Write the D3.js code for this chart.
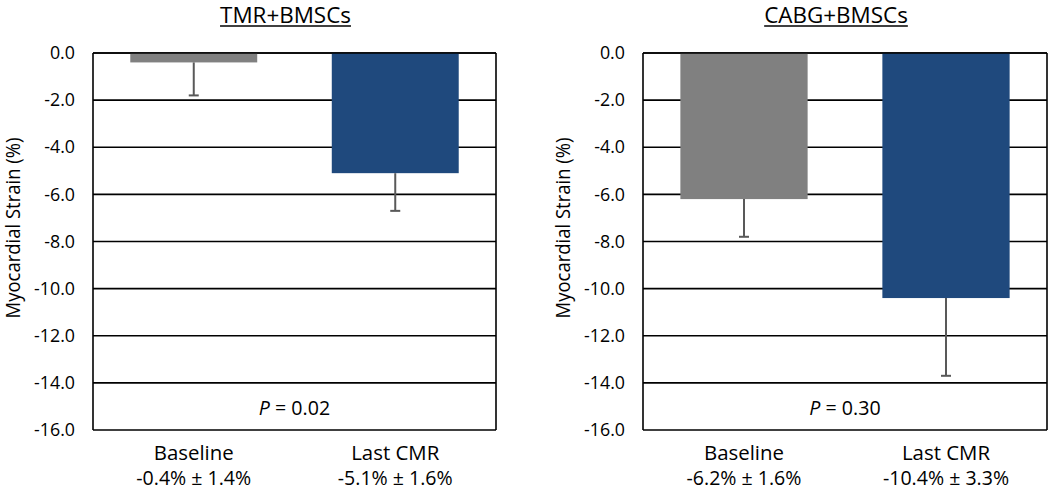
<!DOCTYPE html>
<html><head><meta charset="utf-8">
<script src="https://cdn.jsdelivr.net/npm/d3@7"></script>
<style>body{margin:0;background:#fff}text{font-family:"Open Sans",sans-serif;fill:#000}</style>
</head><body><svg id="c" width="1050" height="490"></svg>
<script>
const categories = ["Baseline", "Last CMR"];
const panelTitles = ["TMR+BMSCs", "CABG+BMSCs"];
const tmrMeans = [-0.4, -5.1];
const tmrSD = [1.4, 1.6];
const cabgMeans = [-6.2, -10.4];
const cabgSD = [1.6, 3.3];
const pValues = ["0.02", "0.30"];
const yTicks = [0, -2, -4, -6, -8, -10, -12, -14, -16];
const barColors = ["#808080", "#1f497d"];

const panels = [
  {title: panelTitles[0], means: tmrMeans, sd: tmrSD, p: pValues[0], x0: 93, x1: 496},
  {title: panelTitles[1], means: cabgMeans, sd: cabgSD, p: pValues[1], x0: 643, x1: 1047}
];
const svg = d3.select("#c");
const y = d3.scaleLinear().domain([0, -16]).range([53, 430]);
const fmt = v => v.toFixed(1);
const statFmt = (m, s) => `${m.toFixed(1)}% ± ${s.toFixed(1)}%`;

function fitSize(str, target) {
  const t = svg.append("text").attr("font-size", 100).text(str);
  const w = t.node().getComputedTextLength();
  t.remove();
  return 100 * target / w;
}
const tickSize = fitSize("-16.0", 41);
const catSize = fitSize("Baseline", 80);
const statSize = fitSize("-0.4% ± 1.4%", 115);
const pSize = fitSize("P = 0.02", 72);
const titleSize = fitSize("TMR+BMSCs", 131);
const ylabSize = fitSize("Myocardial Strain (%)", 181);

panels.forEach(p => {
  const g = svg.append("g");
  const x = d3.scaleBand().domain(categories).range([p.x0, p.x1]).paddingInner(0.37).paddingOuter(0.185);
  g.selectAll(".grid").data(yTicks).join("line")
    .attr("x1", p.x0).attr("x2", p.x1).attr("y1", d => y(d)).attr("y2", d => y(d))
    .attr("stroke", "#000").attr("stroke-width", 1.6);
  g.append("line").attr("x1", p.x0).attr("x2", p.x0).attr("y1", y(0)).attr("y2", y(-16)).attr("stroke", "#000").attr("stroke-width", 1.6);
  g.append("line").attr("x1", p.x1).attr("x2", p.x1).attr("y1", y(0)).attr("y2", y(-16)).attr("stroke", "#000").attr("stroke-width", 1.6);
  const ax = d3.axisLeft(y).tickValues(yTicks).tickFormat(fmt).tickSize(0).tickPadding(18);
  const axg = g.append("g").attr("transform", `translate(${p.x0},0)`).call(ax);
  axg.select(".domain").remove();
  axg.selectAll("text").attr("font-size", tickSize).attr("fill", "#000");
  g.selectAll(".bar").data(p.means).join("rect")
    .attr("x", (d, i) => x(categories[i])).attr("width", x.bandwidth())
    .attr("y", y(0)).attr("height", d => y(d) - y(0))
    .attr("fill", (d, i) => barColors[i]);
  p.means.forEach((m, i) => {
    const cx = x(categories[i]) + x.bandwidth() / 2;
    g.append("line").attr("x1", cx).attr("x2", cx).attr("y1", y(m)).attr("y2", y(m - p.sd[i])).attr("stroke", "#595959").attr("stroke-width", 2);
    g.append("line").attr("x1", cx - 5).attr("x2", cx + 5).attr("y1", y(m - p.sd[i])).attr("y2", y(m - p.sd[i])).attr("stroke", "#595959").attr("stroke-width", 2);
  });
  g.append("line").attr("x1", p.x0).attr("x2", p.x1).attr("y1", y(0)).attr("y2", y(0)).attr("stroke", "#000").attr("stroke-width", 1.6);
  const pt = g.append("text").attr("x", (p.x0 + p.x1) / 2).attr("y", 415).attr("text-anchor", "middle").attr("font-size", pSize);
  pt.append("tspan").attr("font-style", "italic").text("P");
  pt.append("tspan").text(" = " + p.p);
  categories.forEach((c, i) => {
    const cx = x(c) + x.bandwidth() / 2;
    g.append("text").attr("x", cx).attr("y", 460).attr("text-anchor", "middle").attr("font-size", catSize).text(c);
    g.append("text").attr("x", cx).attr("y", 485).attr("text-anchor", "middle").attr("font-size", statSize).text(statFmt(p.means[i], p.sd[i]));
  });
  const tx = (p.x0 + p.x1) / 2 - 9;
  const t = g.append("text").attr("x", tx).attr("y", 23).attr("text-anchor", "middle").attr("font-size", titleSize).text(p.title);
  const w = t.node().getComputedTextLength();
  g.append("line").attr("x1", tx - w / 2).attr("x2", tx + w / 2).attr("y1", 26).attr("y2", 26).attr("stroke", "#000").attr("stroke-width", 1.5);
  g.append("text").attr("transform", `translate(${p.x0 - 73},228) rotate(-90) scale(1,1.06)`).attr("text-anchor", "middle").attr("font-size", ylabSize).text("Myocardial Strain (%)");
});
</script></body></html>
